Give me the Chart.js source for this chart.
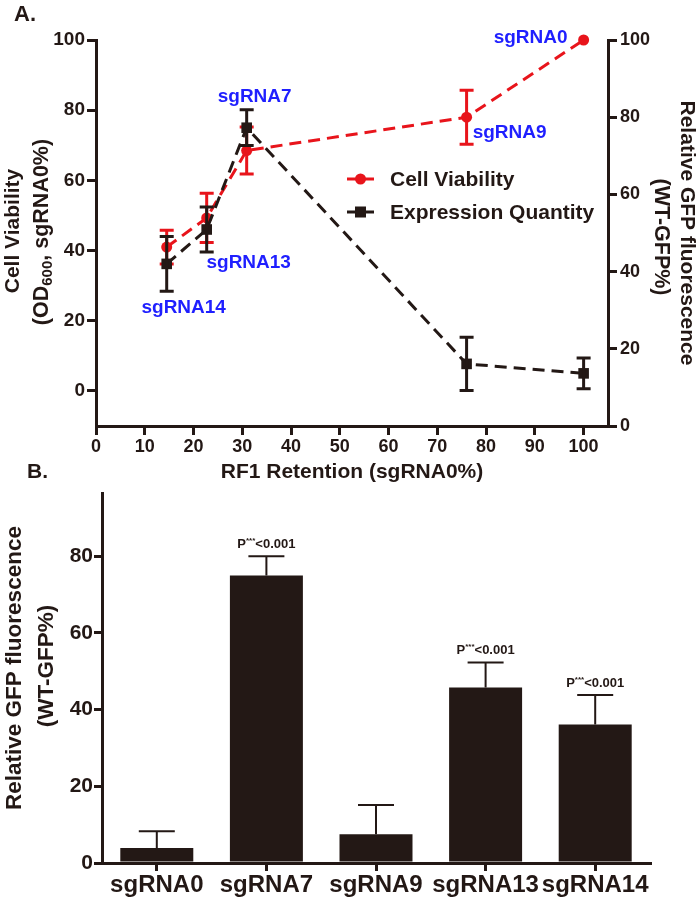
<!DOCTYPE html>
<html>
<head>
<meta charset="utf-8">
<script src="https://cdn.jsdelivr.net/npm/chart.js@4.4.1/dist/chart.umd.min.js"></script>
<style>
  body { margin: 0; background: #fff; }
  #page { position: relative; width: 700px; height: 905px; background: #fff; }
  canvas { position: absolute; left: 0; }
</style>
</head>
<body>
<div id="page">
  <canvas id="chartA" width="700" height="490" style="top:0"></canvas>
  <canvas id="chartB" width="700" height="450" style="top:455px"></canvas>
</div>
<script>
// ---- panel A data ----
const retention = [14.5, 22.7, 30.9, 76, 100];
const pointNames = ['sgRNA14', 'sgRNA13', 'sgRNA7', 'sgRNA9', 'sgRNA0'];
const viability = [41, 49.3, 68.5, 78, 100];
const viabilityErr = [4.8, 7, 6.7, 7.7, 0];
const expression = [36.2, 46, 75, 7.7, 5];
const expressionErr = [7.8, 6.4, 5.1, 7.6, 4.4];
const xTicks = [0, 10, 20, 30, 40, 50, 60, 70, 80, 90, 100];
const leftTicks = [0, 20, 40, 60, 80, 100];
const rightTicks = [0, 20, 40, 60, 80, 100];

// ---- panel B data ----
const groups = ['sgRNA0', 'sgRNA7', 'sgRNA9', 'sgRNA13', 'sgRNA14'];
const gfp = [3.9, 75, 7.5, 45.8, 36.1];
const gfpErr = [4.4, 5, 7.6, 6.5, 7.7];
const significant = [false, true, false, true, true];
const gfpTicks = [0, 20, 40, 60, 80];

const FONT = "'Liberation Sans', Arial, sans-serif";
const RED = '#e8141b';
const BLACK = '#231815';
const BLUE = '#1f1fff';

const bold = (size) => `bold ${size}px ${FONT}`;

function drawPieces(ctx, pieces, x, y, angle) {
  ctx.save();
  ctx.translate(x, y);
  ctx.rotate(angle);
  ctx.textAlign = 'left';
  ctx.textBaseline = 'alphabetic';
  let total = 0;
  pieces.forEach(p => { ctx.font = p.font; total += ctx.measureText(p.text).width; });
  let cx = -total / 2;
  pieces.forEach(p => {
    ctx.font = p.font;
    ctx.fillText(p.text, cx, p.dy);
    cx += ctx.measureText(p.text).width;
  });
  ctx.restore();
}

function centerText(ctx, text, x, y, angle, font, color) {
  ctx.save();
  ctx.translate(x, y);
  ctx.rotate(angle);
  ctx.font = font;
  ctx.fillStyle = color;
  ctx.textAlign = 'center';
  ctx.textBaseline = 'middle';
  ctx.fillText(text, 0, 0);
  ctx.restore();
}

// annotation placement (text centre relative to anchor point)
const labelAnchor = ['expr', 'expr', 'expr', 'via', 'via'];
const labelOffset = [[17, 44], [42, 33], [8, -31], [43, 16], [-53, -2]];

const panelA = {
  id: 'panelA',
  afterDatasetDraw(chart, args) {
    const ds = chart.data.datasets[args.index];
    const ctx = chart.ctx;
    const sx = chart.scales.x, sy = chart.scales.y;
    ctx.save();
    ctx.strokeStyle = ds.borderColor;
    ctx.lineWidth = 3;
    ds.data.forEach((p, i) => {
      const e = ds.errors[i];
      if (!e) return;
      const px = sx.getPixelForValue(p.x);
      const top = sy.getPixelForValue(p.y + e);
      const bot = sy.getPixelForValue(p.y - e);
      ctx.beginPath();
      ctx.moveTo(px, top); ctx.lineTo(px, bot);
      ctx.moveTo(px - 7, top); ctx.lineTo(px + 7, top);
      ctx.moveTo(px - 7, bot); ctx.lineTo(px + 7, bot);
      ctx.stroke();
    });
    ctx.restore();
  },
  afterDraw(chart) {
    const ctx = chart.ctx;
    const sx = chart.scales.x, sy = chart.scales.y;
    const area = chart.chartArea;

    // point names
    pointNames.forEach((name, i) => {
      const val = labelAnchor[i] === 'expr' ? expression[i] : viability[i];
      const px = sx.getPixelForValue(retention[i]) + labelOffset[i][0];
      const py = sy.getPixelForValue(val) + labelOffset[i][1];
      centerText(ctx, name, px, py, 0, bold(19), BLUE);
    });

    // legend
    const legendItems = [
      { text: 'Cell Viability', color: RED, style: 'circle', y: 179 },
      { text: 'Expression Quantity', color: BLACK, style: 'rect', y: 212 }
    ];
    legendItems.forEach(item => {
      ctx.save();
      ctx.strokeStyle = item.color;
      ctx.fillStyle = item.color;
      ctx.lineWidth = 3;
      ctx.beginPath();
      ctx.moveTo(347, item.y); ctx.lineTo(374, item.y);
      ctx.stroke();
      if (item.style === 'circle') {
        ctx.beginPath(); ctx.arc(360.5, item.y, 5.5, 0, Math.PI * 2); ctx.fill();
      } else {
        ctx.fillRect(355, item.y - 5.5, 11, 11);
      }
      ctx.fillStyle = BLACK;
      ctx.font = bold(21);
      ctx.textAlign = 'left';
      ctx.textBaseline = 'middle';
      ctx.fillText(item.text, 390, item.y + 1);
      ctx.restore();
    });

    // panel letter and axis titles
    ctx.save();
    ctx.fillStyle = BLACK;
    ctx.font = bold(22);
    ctx.textAlign = 'left';
    ctx.textBaseline = 'alphabetic';
    ctx.fillText('A.', 14, 21);
    ctx.restore();

    centerText(ctx, 'RF1 Retention (sgRNA0%)', (area.left + area.right) / 2, 472, 0, bold(21), BLACK);
    centerText(ctx, 'Cell Viability', 13, 231, -Math.PI / 2, bold(21), BLACK);
    ctx.fillStyle = BLACK;
    drawPieces(ctx, [
      { text: '(OD', font: bold(21.5), dy: 7.5 },
      { text: '600', font: bold(15), dy: 12 },
      { text: ', sgRNA0%)', font: bold(21.5), dy: 7.5 }
    ], 40, 232, -Math.PI / 2);
    centerText(ctx, 'Relative GFP fluorescence', 687, 233, Math.PI / 2, bold(21), BLACK);
    centerText(ctx, '(WT-GFP%)', 661, 237, Math.PI / 2, bold(21.5), BLACK);
  }
};

const panelB = {
  id: 'panelB',
  afterDatasetsDraw(chart) {
    const ctx = chart.ctx;
    const sx = chart.scales.x, sy = chart.scales.y;
    ctx.save();
    ctx.strokeStyle = BLACK;
    ctx.fillStyle = BLACK;
    ctx.lineWidth = 2;
    gfp.forEach((v, i) => {
      const px = sx.getPixelForValue(i);
      const base = sy.getPixelForValue(v);
      const top = sy.getPixelForValue(v + gfpErr[i]);
      ctx.beginPath();
      ctx.moveTo(px, base); ctx.lineTo(px, top);
      ctx.moveTo(px - 18, top); ctx.lineTo(px + 18, top);
      ctx.stroke();
      if (significant[i]) {
        drawPieces(ctx, [
          { text: 'P', font: bold(13), dy: 0 },
          { text: '***', font: bold(8), dy: -5 },
          { text: '<0.001', font: bold(13), dy: 0 }
        ], px, top - 8, 0);
      }
    });
    ctx.restore();
  },
  afterDraw(chart) {
    const ctx = chart.ctx;
    ctx.save();
    ctx.fillStyle = BLACK;
    ctx.font = bold(21);
    ctx.textAlign = 'left';
    ctx.textBaseline = 'alphabetic';
    ctx.fillText('B.', 27, 23);
    ctx.restore();
    centerText(ctx, 'Relative GFP fluorescence', 15, 213, -Math.PI / 2, bold(22.5), BLACK);
    centerText(ctx, '(WT-GFP%)', 47, 211, -Math.PI / 2, bold(22.5), BLACK);
  }
};

const axisGrid = (len) => ({ drawOnChartArea: false, color: BLACK, lineWidth: 3, tickLength: len });
const axisBorder = { color: BLACK, width: 3 };

new Chart(document.getElementById('chartA'), {
  type: 'scatter',
  data: {
    datasets: [
      {
        label: 'Expression Quantity',
        data: retention.map((x, i) => ({ x, y: expression[i] })),
        errors: expressionErr,
        borderColor: BLACK,
        backgroundColor: BLACK,
        pointStyle: 'rect',
        pointRadius: 7.5,
        pointBorderWidth: 0,
        showLine: true,
        borderWidth: 3,
        borderDash: [12, 7],
        order: 0,
        clip: false
      },
      {
        label: 'Cell Viability',
        data: retention.map((x, i) => ({ x, y: viability[i] })),
        errors: viabilityErr,
        borderColor: RED,
        backgroundColor: RED,
        pointStyle: 'circle',
        pointRadius: 5.5,
        pointBorderWidth: 0,
        showLine: true,
        borderWidth: 3,
        borderDash: [12, 7],
        order: 1,
        clip: false
      }
    ]
  },
  options: {
    responsive: false,
    animation: false,
    devicePixelRatio: 1,
    layout: { padding: { top: 40, left: 0, right: 0, bottom: 0 } },
    scales: {
      x: {
        type: 'linear', position: 'bottom', min: 0, max: 105,
        afterBuildTicks: s => { s.ticks = xTicks.map(v => ({ value: v })); },
        afterFit: s => { s.height = 64; },
        grid: axisGrid(9), border: axisBorder,
        ticks: { color: BLACK, font: { family: FONT, size: 18, weight: 'bold' }, padding: 1, maxRotation: 0, autoSkip: false }
      },
      y: {
        type: 'linear', position: 'left', min: -10, max: 100,
        afterBuildTicks: s => { s.ticks = leftTicks.map(v => ({ value: v })); },
        afterFit: s => { s.width = 96; },
        grid: axisGrid(9), border: axisBorder,
        ticks: { color: BLACK, font: { family: FONT, size: 19, weight: 'bold' }, padding: 2 }
      },
      y2: {
        type: 'linear', position: 'right', min: 0, max: 100,
        afterBuildTicks: s => { s.ticks = rightTicks.map(v => ({ value: v })); },
        afterFit: s => { s.width = 92; },
        grid: axisGrid(9), border: axisBorder,
        ticks: { color: BLACK, font: { family: FONT, size: 18, weight: 'bold' }, padding: 3 }
      }
    },
    plugins: { legend: { display: false }, tooltip: { enabled: false } }
  },
  plugins: [panelA]
});

new Chart(document.getElementById('chartB'), {
  type: 'bar',
  data: {
    labels: groups,
    datasets: [{
      data: gfp,
      backgroundColor: BLACK,
      borderWidth: 0,
      barPercentage: 0.666,
      categoryPercentage: 1
    }]
  },
  options: {
    responsive: false,
    animation: false,
    devicePixelRatio: 1,
    layout: { padding: { top: 38, left: 0, right: 50, bottom: 0 } },
    scales: {
      x: {
        afterFit: s => { s.height = 42; },
        grid: Object.assign(axisGrid(8), { offset: false }), border: axisBorder,
        ticks: { color: BLACK, font: { family: FONT, size: 24, weight: 'bold' }, padding: 0, maxRotation: 0, minRotation: 0, autoSkip: false }
      },
      y: {
        min: 0, max: 96.5,
        afterBuildTicks: s => { s.ticks = gfpTicks.map(v => ({ value: v })); },
        afterFit: s => { s.width = 102; },
        grid: axisGrid(8), border: axisBorder,
        ticks: { color: BLACK, font: { family: FONT, size: 21, weight: 'bold' }, padding: 1 }
      }
    },
    plugins: { legend: { display: false }, tooltip: { enabled: false } }
  },
  plugins: [panelB]
});
</script>
</body>
</html>
